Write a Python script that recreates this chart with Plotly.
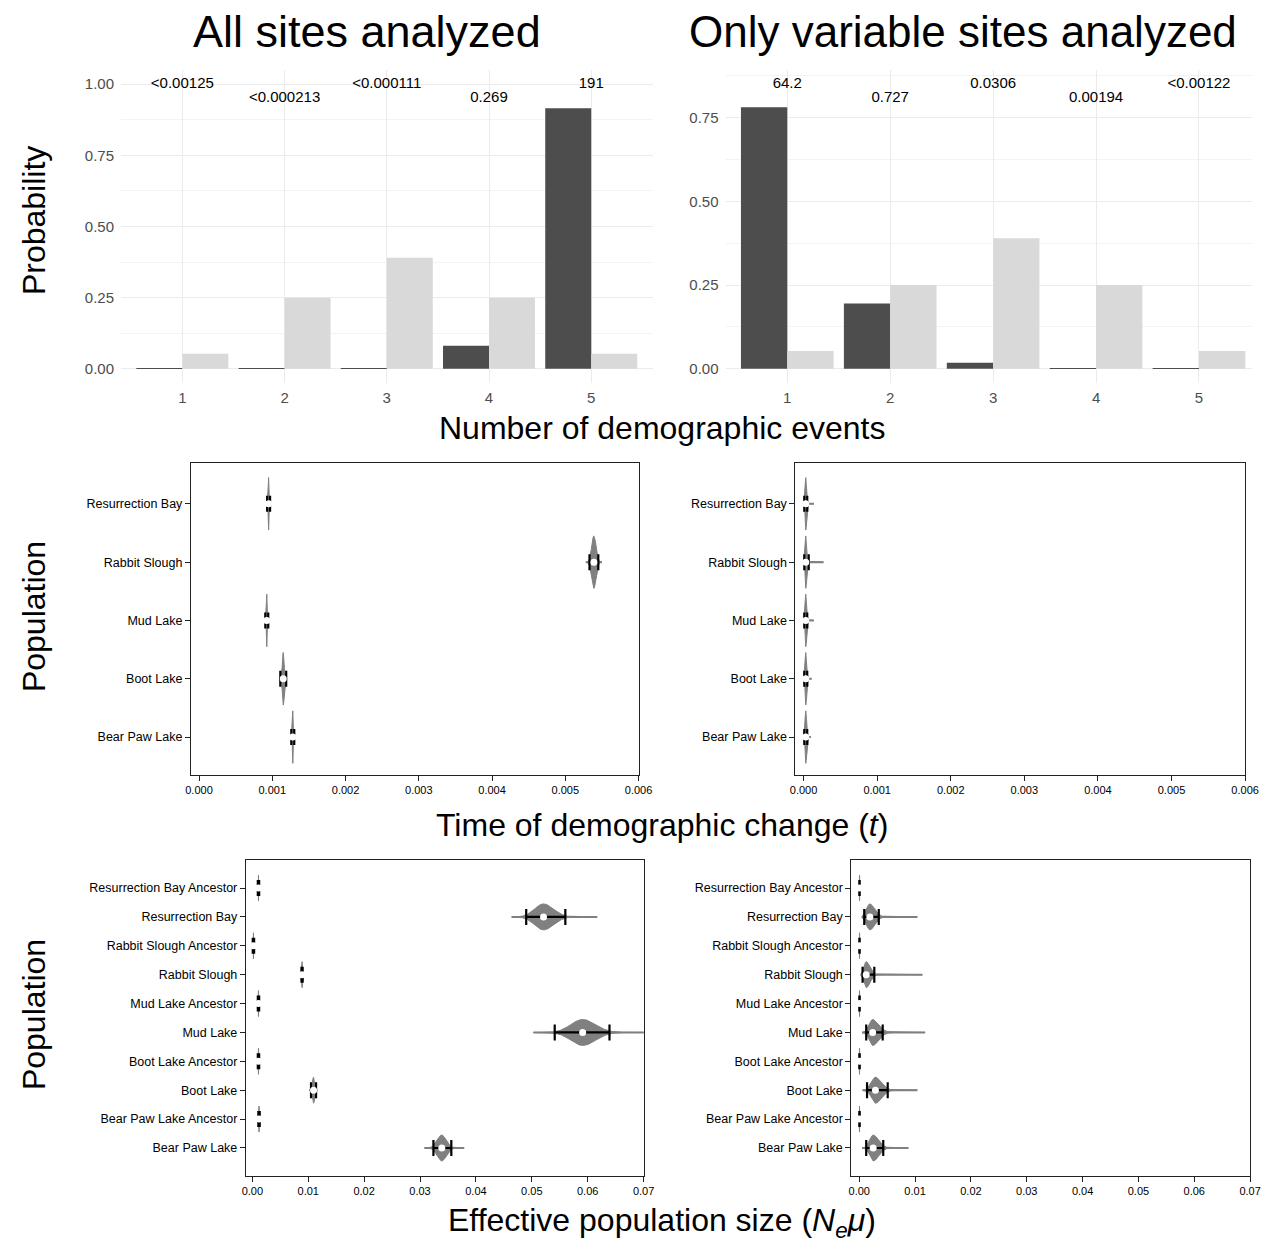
import numpy as np
import plotly.graph_objects as go

W, H = 1266, 1243

# ---------------- data ----------------
events = [1, 2, 3, 4, 5]
prior_probs = [0.053, 0.25, 0.39, 0.25, 0.053]
post_all = [0.001, 0.0005, 0.0003, 0.081, 0.916]
post_var = [0.781, 0.195, 0.018, 0.001, 0.0005]
bf_all = ["<0.00125", "<0.000213", "<0.000111", "0.269", "191"]
bf_var = ["64.2", "0.727", "0.0306", "0.00194", "<0.00122"]

pops_t = ["Resurrection Bay", "Rabbit Slough", "Mud Lake", "Boot Lake", "Bear Paw Lake"]
t_all_med = [0.00095, 0.00539, 0.000925, 0.00115, 0.00128]
t_all_lo = [0.00093, 0.00533, 0.000905, 0.00111, 0.00126]
t_all_hi = [0.00097, 0.00545, 0.000945, 0.00119, 0.00130]
t_all_min = [0.00093, 0.00528, 0.000905, 0.00110, 0.00126]
t_all_max = [0.00097, 0.00550, 0.000945, 0.00120, 0.00130]
t_all_sdl = [0.000005, 0.00003, 0.000005, 0.000012, 0.000005]
t_all_sdh = [0.000005, 0.00003, 0.000005, 0.000012, 0.000005]

t_var_med = [0.00003, 0.00003, 0.00003, 0.00003, 0.00003]
t_var_lo = [0.00001, 0.00001, 0.00001, 0.00001, 0.00001]
t_var_hi = [0.00005, 0.00007, 0.00005, 0.00005, 0.00005]
t_var_min = [0.0, 0.0, 0.0, 0.0, 0.0]
t_var_max = [0.00014, 0.00027, 0.00014, 0.00011, 0.00010]
t_var_sdl = [0.000008, 0.000008, 0.000008, 0.000008, 0.000008]
t_var_sdh = [0.000012, 0.000012, 0.000012, 0.000012, 0.000012]

pops_n = ["Resurrection Bay Ancestor", "Resurrection Bay", "Rabbit Slough Ancestor",
          "Rabbit Slough", "Mud Lake Ancestor", "Mud Lake", "Boot Lake Ancestor",
          "Boot Lake", "Bear Paw Lake Ancestor", "Bear Paw Lake"]
n_all_med = [0.0011, 0.0521, 0.0002, 0.0089, 0.0011, 0.0591, 0.0011, 0.01095, 0.0012, 0.0339]
n_all_lo = [0.00098, 0.0490, 0.00008, 0.0088, 0.00098, 0.0541, 0.00098, 0.0105, 0.00108, 0.0324]
n_all_hi = [0.00122, 0.0560, 0.00032, 0.0090, 0.00122, 0.0639, 0.00122, 0.0114, 0.00132, 0.0356]
n_all_min = [0.001, 0.0464, 0.0001, 0.0086, 0.001, 0.0503, 0.001, 0.0102, 0.0011, 0.0308]
n_all_max = [0.0012, 0.0617, 0.0003, 0.0092, 0.0012, 0.0712, 0.0012, 0.0116, 0.0013, 0.0379]
n_all_sdl = [0.00003, 0.0016, 0.00003, 0.00008, 0.00003, 0.0021, 0.00003, 0.00018, 0.00003, 0.0008]
n_all_sdh = [0.00003, 0.0018, 0.00003, 0.00008, 0.00003, 0.0023, 0.00003, 0.00018, 0.00003, 0.0008]

n_var_med = [0.00005, 0.0019, 0.00005, 0.00125, 0.00005, 0.0024, 0.00005, 0.0029, 0.00005, 0.0025]
n_var_lo = [0.00002, 0.0009, 0.00002, 0.0006, 0.00002, 0.00125, 0.00002, 0.0014, 0.00002, 0.00125]
n_var_hi = [0.00008, 0.0035, 0.00008, 0.0027, 0.00008, 0.0042, 0.00008, 0.0051, 0.00008, 0.0043]
n_var_min = [0.0, 0.0005, 0.0, 0.0003, 0.0, 0.0005, 0.0, 0.0006, 0.0, 0.0005]
n_var_max = [0.00012, 0.0104, 0.00012, 0.0113, 0.00012, 0.0118, 0.00012, 0.0104, 0.00012, 0.0088]
n_var_sdl = [0.00002, 0.0006, 0.00002, 0.0004, 0.00002, 0.0006, 0.00002, 0.0007, 0.00002, 0.0006]
n_var_sdh = [0.00003, 0.0009, 0.00003, 0.0007, 0.00003, 0.0011, 0.00003, 0.0011, 0.00003, 0.0010]

# ---------------- styling ----------------
FONT = "Liberation Sans"
DARK = "#4D4D4D"
LIGHT = "#D9D9D9"
VCOL = "#808080"


def px2fx(p):
    # horizontal page pixel -> paper fraction (compensates the observed horizontal mapping)
    return min(1.0, max(0.0, ((p - 4.9) / 0.985) / W))


def dx(a, b):
    return [px2fx(a), px2fx(b)]


def dy(top, bottom):
    return [1 - bottom / H, 1 - top / H]


fig = go.Figure()

# ---------------- top bar panels ----------------
for i, (post, bf, xa, ya) in enumerate([(post_all, bf_all, "x", "y"), (post_var, bf_var, "x2", "y2")]):
    fig.add_trace(go.Bar(x=events, y=post, marker=dict(color=DARK, line=dict(width=0)),
                         xaxis=xa, yaxis=ya, showlegend=False, offsetgroup="post"))
    fig.add_trace(go.Bar(x=events, y=prior_probs, marker=dict(color=LIGHT, line=dict(width=0)),
                         xaxis=xa, yaxis=ya, showlegend=False, offsetgroup="prior"))
    top = 1.0 if i == 0 else 0.85
    ly = [top if k % 2 == 0 else top * 0.95 for k in range(len(bf))]
    fig.add_trace(go.Scatter(x=events, y=ly, text=bf, mode="text",
                             textfont=dict(family=FONT, size=15, color="black"),
                             xaxis=xa, yaxis=ya, showlegend=False, cliponaxis=False))


# ---------------- violin panels ----------------
def add_violins(med, lo, hi, vmin, vmax, sdl, sdh, xa, ya):
    for k in range(len(med)):
        xs = np.linspace(vmin[k], vmax[k], 300)
        s = np.where(xs < med[k], sdl[k], sdh[k])
        h = 0.45 * np.exp(-0.5 * ((xs - med[k]) / s) ** 2)
        px = np.concatenate([xs, xs[::-1], xs[:1]])
        py = np.concatenate([k + h, (k - h)[::-1], [k + h[0]]])
        fig.add_trace(go.Scatter(x=[vmin[k], vmax[k]], y=[k, k], mode="lines",
                                 line=dict(color=VCOL, width=2), xaxis=xa, yaxis=ya,
                                 showlegend=False, hoverinfo="skip"))
        fig.add_trace(go.Scatter(x=px, y=py, mode="lines", fill="toself", fillcolor=VCOL,
                                 line=dict(color=VCOL, width=1), xaxis=xa, yaxis=ya,
                                 showlegend=False, hoverinfo="skip"))
    pos = list(range(len(med)))
    fig.add_trace(go.Scatter(
        x=med, y=pos, mode="markers",
        marker=dict(color="white", size=7, line=dict(width=0)),
        error_x=dict(type="data", symmetric=False,
                     array=[h_ - m for h_, m in zip(hi, med)],
                     arrayminus=[m - l for l, m in zip(lo, med)],
                     color="black", thickness=2.2, width=8),
        xaxis=xa, yaxis=ya, showlegend=False))


add_violins(t_all_med, t_all_lo, t_all_hi, t_all_min, t_all_max, t_all_sdl, t_all_sdh, "x3", "y3")
add_violins(t_var_med, t_var_lo, t_var_hi, t_var_min, t_var_max, t_var_sdl, t_var_sdh, "x4", "y4")
add_violins(n_all_med, n_all_lo, n_all_hi, n_all_min, n_all_max, n_all_sdl, n_all_sdh, "x5", "y5")
add_violins(n_var_med, n_var_lo, n_var_hi, n_var_min, n_var_max, n_var_sdl, n_var_sdh, "x6", "y6")

# ---------------- axes ----------------
tickfont_top = dict(family=FONT, size=15, color=DARK)


def top_x(domain, anchor, rng):
    return dict(domain=domain, anchor=anchor, range=rng, tickmode="array",
                tickvals=events, ticktext=[str(e) for e in events], showgrid=True,
                gridcolor="#EBEBEB", gridwidth=1.1, zeroline=False, showline=False,
                ticks="", tickfont=tickfont_top, ticklabelstandoff=4)


def top_y(domain, anchor, rng):
    return dict(domain=domain, anchor=anchor, range=rng, tickmode="linear", tick0=0,
                dtick=0.25, tickformat=".2f", showgrid=True, gridcolor="#EBEBEB",
                gridwidth=1.1, zeroline=False, showline=False, ticks="",
                tickfont=tickfont_top, ticklabelstandoff=6,
                minor=dict(tick0=0.125, dtick=0.25, showgrid=True, gridcolor="#F3F3F3",
                           gridwidth=0.7))


def box_x(domain, anchor, rng, dtick, fmt):
    return dict(domain=domain, anchor=anchor, range=rng, tickmode="linear", tick0=0,
                dtick=dtick, tickformat=fmt, showgrid=False, zeroline=False,
                showline=True, mirror=True, linecolor="#222222", linewidth=1.2,
                ticks="outside", ticklen=5, tickwidth=1, tickcolor="#222222",
                tickfont=dict(family=FONT, size=11, color="black"))


def box_y(domain, anchor, labels, rng):
    return dict(domain=domain, anchor=anchor, range=rng, tickmode="array",
                tickvals=list(range(len(labels))), ticktext=labels, showgrid=False,
                zeroline=False, showline=True, mirror=True, linecolor="#222222",
                linewidth=1.2, ticks="outside", ticklen=5, tickwidth=1,
                tickcolor="#222222", tickfont=dict(family=FONT, size=12.5, color="black"))


layout = dict(
    width=W, height=H, autosize=False, margin=dict(l=0, r=0, t=0, b=0),
    paper_bgcolor="white", plot_bgcolor="white",
    barmode="group", bargap=0.1, bargroupgap=0.0,
    font=dict(family=FONT, color="black"),
    xaxis=top_x(dx(120, 652), "y", [0.4, 5.6]),
    yaxis=top_y(dy(70, 383), "x", [-0.05, 1.05]),
    xaxis2=top_x(dx(725, 1266), "y2", [0.4, 5.515]),
    yaxis2=top_y(dy(70, 383), "x2", [-0.0425, 0.8925]),
    xaxis3=box_x(dx(190, 638), "y3", [-0.00011, 0.006], 0.001, ".3f"),
    yaxis3=box_y(dy(463, 775), "x3", pops_t, [4.65, -0.7]),
    xaxis4=box_x(dx(795, 1245), "y4", [-0.00011, 0.006], 0.001, ".3f"),
    yaxis4=box_y(dy(463, 775), "x4", pops_t, [4.65, -0.7]),
    xaxis5=box_x(dx(245, 643), "y5", [-0.00115, 0.07], 0.01, ".2f"),
    yaxis5=box_y(dy(860, 1176), "x5", pops_n, [9.97, -0.97]),
    xaxis6=box_x(dx(851, 1250), "y6", [-0.0014, 0.07], 0.01, ".2f"),
    yaxis6=box_y(dy(860, 1176), "x6", pops_n, [9.97, -0.97]),
)
fig.update_layout(**layout)


def ann(text, x, y, size, angle=0):
    fig.add_annotation(text=text, x=px2fx(x), y=1 - y / H, xref="paper", yref="paper",
                       xanchor="center", yanchor="middle", showarrow=False,
                       textangle=angle, font=dict(family=FONT, size=size, color="black"))


ann("All sites analyzed", 366, 31, 45)
ann("Only variable sites analyzed", 963, 31, 44)
ann("Number of demographic events", 661, 428, 32)
ann("Time of demographic change (<i>t</i>)", 661, 825, 32)
ann("Effective population size (<i>N<sub>e</sub>μ</i>)", 661, 1222, 32)
ann("Probability", 33, 221, 32, -90)
ann("Population", 33, 617, 32, -90)
ann("Population", 33, 1015, 32, -90)

fig.write_html("out.html",
               config={"responsive": False, "displayModeBar": False},
               post_script="document.body.style.margin='0';document.body.style.overflow='hidden';")
